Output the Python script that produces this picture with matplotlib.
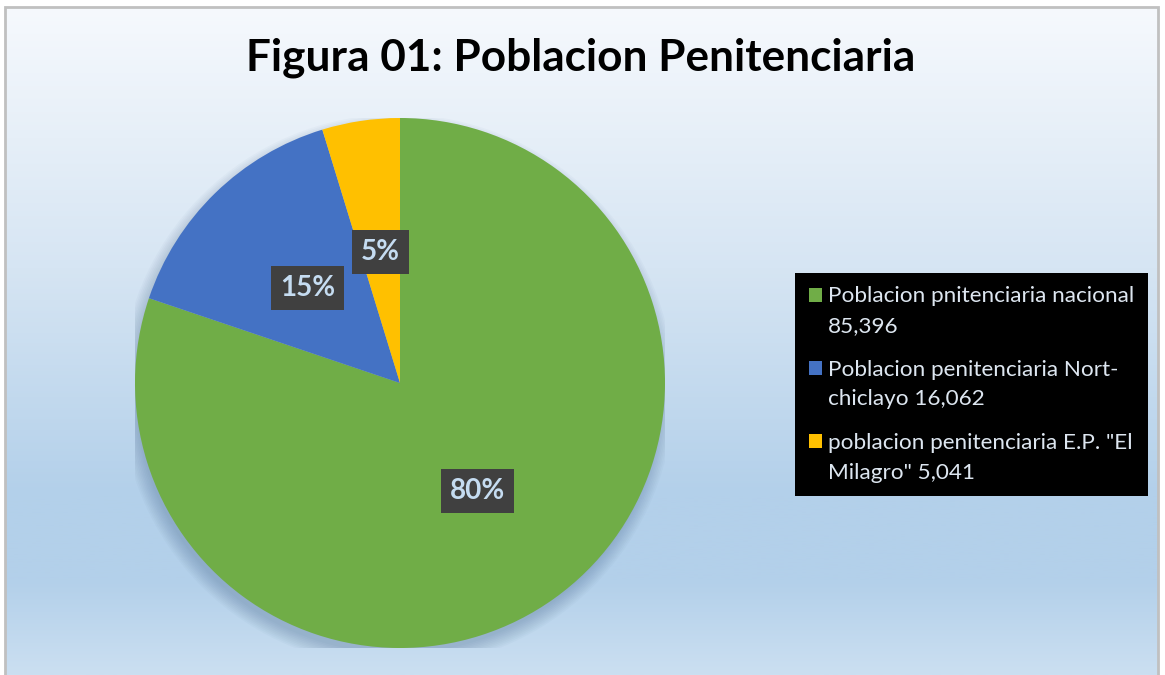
import numpy as np
import matplotlib.pyplot as plt
from matplotlib.colors import LinearSegmentedColormap
from matplotlib.patches import Rectangle, Circle
from matplotlib.legend_handler import HandlerPatch

plt.rcParams['font.family'] = ['Lato', 'DejaVu Sans']

# datos
categorias = ["Poblacion pnitenciaria nacional\n85,396",
              "Poblacion penitenciaria Nort-\nchiclayo 16,062",
              "poblacion penitenciaria E.P. \"El\nMilagro\" 5,041"]
valores = [85396, 16062, 5041]
colores = ["#70ad47", "#4472c4", "#ffc000"]
titulo = "Figura 01: Poblacion Penitenciaria"

W, H = 1165, 675
fig = plt.figure(figsize=(W / 100, H / 100), dpi=100)
fig.patch.set_facecolor("white")

# fondo degradado
bg = fig.add_axes([5 / W, 0, 1153 / W, (H - 7) / H])
bg.set_axis_off()
grad = LinearSegmentedColormap.from_list(
    "fondo",
    [(0.0, "#f6f9fd"), (0.39, "#d6e5f3"), (0.73, "#b3d0ea"),
     (0.86, "#b3d0ea"), (1.0, "#cbdff1")])
bg.imshow(np.linspace(0, 1, 256).reshape(-1, 1), cmap=grad, aspect="auto",
          extent=[0, 1, 0, 1], origin="upper")
bg.set_xlim(0, 1)
bg.set_ylim(0, 1)
fig.patches.append(Rectangle((5 / W, -0.01), 1153 / W, (H - 7) / H + 0.01,
                             transform=fig.transFigure, fill=False,
                             edgecolor="#c0c0c0", linewidth=2, zorder=5))

# pastel
R = 265
ax = fig.add_axes([(400 - R) / W, (H - 383 - R) / H, 2 * R / W, 2 * R / H])
ax.set_axis_off()

# sombra suave
for k in range(10):
    ax.add_patch(Circle((-0.01, -0.03), 0.99 + 0.006 * k, color="#3a5a80",
                        alpha=0.03, linewidth=0, zorder=0))

wedges, _, pcts = ax.pie(valores, colors=colores, startangle=90,
                         counterclock=False, autopct="%1.0f%%",
                         pctdistance=0.5, radius=1.0,
                         wedgeprops=dict(linewidth=0))
ax.set_xlim(-1, 1)
ax.set_ylim(-1, 1)
ax.set_aspect("equal")

for t in pcts:
    t.set_color("#c5dcf1")
    t.set_fontsize(20)
    t.set_fontweight("bold")
    t.set_bbox(dict(boxstyle="square,pad=0.32", facecolor="#404040",
                    edgecolor="none"))

fig.text(581 / W, 1 - 58 / H, titulo, ha="center", va="center",
         fontsize=31.8, fontweight="bold", color="black")


# cuadrito de leyenda alineado con la primera linea
def cuadro(legend, orig_handle, xdescent, ydescent, width, height, fontsize):
    s = 0.62 * fontsize
    return Rectangle((-xdescent, -ydescent + 12.2), s, s)


leg = fig.legend(wedges, categorias, loc="upper left",
                 bbox_to_anchor=(795 / W, 1 - 273 / H), borderaxespad=0,
                 fontsize=16.2, labelcolor="#dde6f0", frameon=True,
                 fancybox=False, facecolor="black", edgecolor="black",
                 framealpha=1, handlelength=0.62, handleheight=0.62,
                 handletextpad=0.25, labelspacing=1.05, borderpad=0.6,
                 handler_map={w: HandlerPatch(patch_func=cuadro) for w in wedges})
leg.get_frame().set_linewidth(0)
for t in leg.get_texts():
    t.set_linespacing(1.6)

fig.savefig("out.png", dpi=100)
